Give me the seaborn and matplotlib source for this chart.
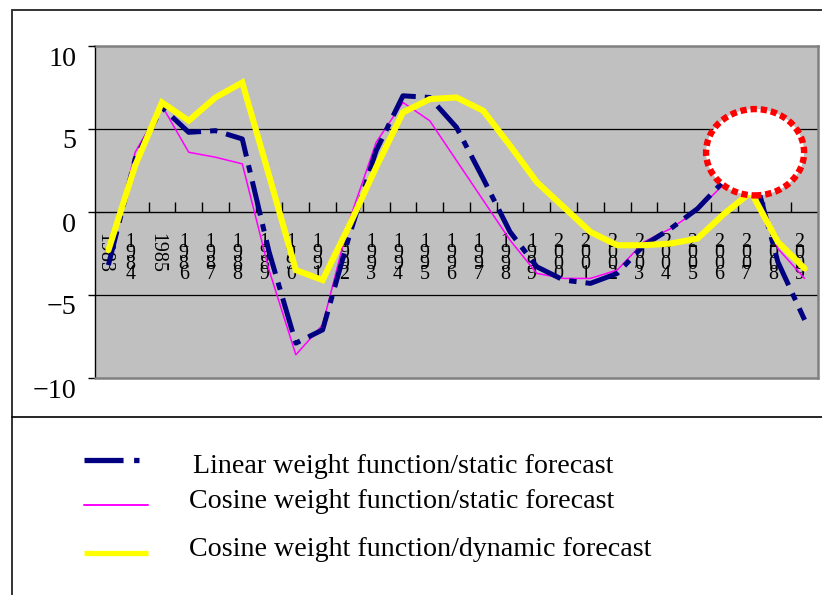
import numpy as np
import pandas as pd
import matplotlib
matplotlib.use("Agg")
import matplotlib.pyplot as plt
import matplotlib.transforms as mtransforms
from matplotlib.patches import Ellipse
from matplotlib.lines import Line2D
import seaborn as sns

# ---------------- data ----------------
years = list(range(1983, 2010))
linear_static = [-3.2, 3.2, 6.3, 4.8, 4.9, 4.4, -2.4, -7.9, -7.1, -1.4, 3.7, 7.0, 6.9,
                 5.1, 2.0, -1.2, -3.3, -4.1, -4.3, -3.7, -2.0, -1.0, 0.2, 1.9, 3.0, -3.0, -6.5]
cosine_static = [-3.0, 3.6, 6.4, 3.6, 3.3, 2.9, -3.5, -8.6, -6.8, -0.5, 4.2, 6.6, 5.5,
                 3.1, 0.7, -1.7, -3.7, -4.0, -4.0, -3.5, -1.8, -1.0, 0.1, 1.7, 2.6, -2.2, -4.0]
cosine_dynamic = [-2.3, 2.8, 6.6, 5.5, 6.9, 7.8, 2.2, -3.5, -4.1, -0.8, 2.7, 6.0, 6.8,
                  6.9, 6.1, 4.0, 1.8, 0.3, -1.2, -2.0, -2.0, -1.9, -1.6, -0.1, 1.2, -1.8, -3.4]
y_ticks = [-10, -5, 0, 5, 10]
legend_labels = ["Linear weight function/static forecast",
                 "Cosine weight function/static forecast",
                 "Cosine weight function/dynamic forecast"]
highlight_year = 2007
rotated_years = [1983, 1985]

df = pd.DataFrame({
    "idx": np.arange(len(years)),
    "year": years,
    "linear_static": linear_static,
    "cosine_static": cosine_static,
    "cosine_dynamic": cosine_dynamic,
})

# ---------------- style ----------------
sns.set_style("white")
plt.rcParams["font.family"] = ["Liberation Serif", "DejaVu Serif"]
plt.rcParams["axes.unicode_minus"] = True
plt.rcParams["text.color"] = "black"
plt.rcParams["xtick.color"] = "black"
plt.rcParams["ytick.color"] = "black"
plt.rcParams["xtick.labelcolor"] = "black"
plt.rcParams["ytick.labelcolor"] = "black"

W, H = 822, 595
fig = plt.figure(figsize=(W / 100, H / 100), dpi=100)
fig.patch.set_facecolor("white")

def fx(px):
    return px / W

def fy(py):
    return 1 - py / H

ax = fig.add_axes([fx(95), fy(378), fx(818) - fx(95), fy(46) - fy(378)])
ax.set_facecolor("#C0C0C0")

NAVY = "#000080"
PINK = "#FF00FF"
YELLOW = "#FFFF00"
dashdot = (0, (7, 1.8, 1.5, 1.8))

# gridlines at +/-5
for v in (5, -5):
    ax.axhline(v, color="black", lw=0.9, zorder=1)

sns.lineplot(data=df, x="idx", y="cosine_static", ax=ax, color=PINK,
             linewidth=1.1, zorder=3)
sns.lineplot(data=df, x="idx", y="linear_static", ax=ax, color=NAVY,
             linewidth=3.6, linestyle=dashdot, dash_capstyle="butt", zorder=4)
sns.lineplot(data=df, x="idx", y="cosine_dynamic", ax=ax, color=YELLOW,
             linewidth=4.4, solid_joinstyle="miter", zorder=5)

# highlight circle around 2007
hi = years.index(highlight_year)
circ = Ellipse((hi + 0.15, 3.6), width=3.66, height=5.2, facecolor="white",
               edgecolor="#FF0000", linewidth=4.6, linestyle=(0, (1.0, 0.6)),
               zorder=6)
ax.add_patch(circ)

ax.set_xlim(-0.5, len(years) - 0.5)
ax.set_ylim(-10, 10)
ax.set_xlabel("")
ax.set_ylabel("")

# spines
for s in ("top", "right"):
    ax.spines[s].set_color("#808080")
    ax.spines[s].set_linewidth(1.8)
ax.spines["left"].set_color("black")
ax.spines["left"].set_linewidth(1.0)
ax.spines["bottom"].set_position(("data", 0))
ax.spines["bottom"].set_color("black")
ax.spines["bottom"].set_linewidth(1.0)
ax.spines["bottom"].set_zorder(2)
ax.axhline(-10, color="#808080", lw=1.8, clip_on=False, zorder=7)

# y ticks
ax.set_yticks(y_ticks)
ax.tick_params(axis="y", direction="out", length=5, width=1, color="black",
               labelsize=20.2, pad=8.5, left=True, labelcolor="black")
yoff = mtransforms.ScaledTranslation(0, -10 / 100, fig.dpi_scale_trans)
for lab in ax.get_yticklabels():
    lab.set_transform(lab.get_transform() + yoff)

# x ticks: marks between categories, labels at categories
ax.set_xticks(np.arange(0.5, len(years) - 1, 1))
ax.set_xticklabels([])
ax.tick_params(axis="x", which="major", direction="in", length=7, width=1,
               color="black", bottom=True)
labels = []
for y in years:
    if y in rotated_years:
        labels.append(str(y))
    else:
        labels.append("\n".join(str(y)))
ax.set_xticks(np.arange(len(years)), labels, minor=True)
ax.tick_params(axis="x", which="minor", length=0, pad=15, labelsize=14.4,
               bottom=True, labelcolor="black")
xoff = mtransforms.ScaledTranslation(-5 / 100, 0, fig.dpi_scale_trans)
for y, lab in zip(years, ax.get_xticklabels(minor=True)):
    lab.set_transform(lab.get_transform() + xoff)
    if y in rotated_years:
        lab.set_rotation(-90)
    else:
        lab.set_linespacing(0.42)
ax.set_axisbelow(False)

# ---------------- outer frame ----------------
frame_kw = dict(color="#333333", lw=1.4, transform=fig.transFigure)
fig.add_artist(Line2D([fx(11.7), 1.0], [fy(10), fy(10)], **frame_kw))
fig.add_artist(Line2D([fx(11.7), fx(11.7)], [fy(10), 0.0], **frame_kw))
fig.add_artist(Line2D([fx(11.7), 1.0], [fy(417), fy(417)], color="black", lw=1.2,
                      transform=fig.transFigure))

# ---------------- legend ----------------
fig.add_artist(Line2D([fx(84), fx(139)], [fy(460), fy(460)], color=NAVY, lw=3.8,
                      linestyle=(0, (7.4, 2.0, 1.6, 2.0)), dash_capstyle="butt",
                      transform=fig.transFigure))
fig.add_artist(Line2D([fx(84), fx(148)], [fy(505), fy(505)], color=PINK, lw=1.4,
                      transform=fig.transFigure))
fig.add_artist(Line2D([fx(84), fx(148)], [fy(553), fy(553)], color=YELLOW, lw=3.8,
                      solid_capstyle="butt", transform=fig.transFigure))
fig.text(fx(193), fy(473), legend_labels[0], fontsize=20.2, va="baseline", ha="left",
         color="black")
fig.text(fx(189), fy(508), legend_labels[1], fontsize=20.2, va="baseline", ha="left",
         color="black")
fig.text(fx(189), fy(556), legend_labels[2], fontsize=20.2, va="baseline", ha="left",
         color="black")

fig.savefig("out.png", dpi=100, facecolor="white")
